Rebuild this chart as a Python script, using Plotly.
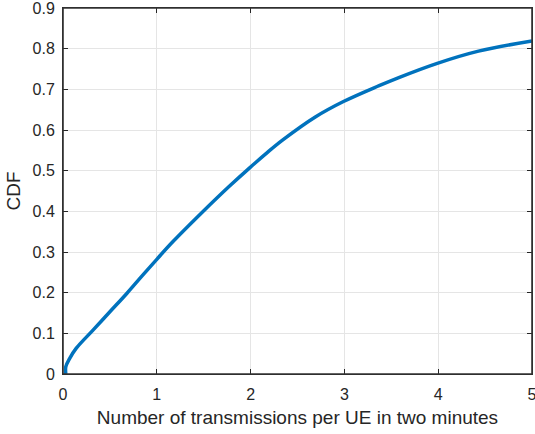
import plotly.graph_objects as go

x_vals = [0.03, 0.03, 0.07, 0.14, 0.32, 0.50, 0.68, 0.85, 1.00, 1.17, 1.49, 1.77,
          1.99, 2.18, 2.34, 2.69, 2.99, 3.37, 3.58, 3.99, 4.43, 5.00]
cdf_vals = [0.0, 0.018, 0.038, 0.063, 0.108, 0.153, 0.198, 0.243, 0.282, 0.325, 0.399, 0.461,
            0.507, 0.545, 0.575, 0.632, 0.670, 0.709, 0.729, 0.764, 0.794, 0.819]
x_ticks = [0, 1, 2, 3, 4, 5]
y_ticks = [0, 0.1, 0.2, 0.3, 0.4, 0.5, 0.6, 0.7, 0.8, 0.9]

fig = go.Figure()
fig.add_trace(go.Scatter(x=x_vals, y=cdf_vals, mode="lines",
                         line=dict(color="#0072BD", width=3.5, shape="spline", smoothing=1.0),
                         showlegend=False, cliponaxis=True))

fam = "Liberation Sans, Arial, sans-serif"
tick_font = dict(family=fam, size=16, color="#262626")
title_font = dict(family=fam, size=19, color="#262626")
axis_common = dict(showline=True, linecolor="#262626", linewidth=1, mirror="ticks",
                   ticks="inside", ticklen=5, tickcolor="#262626",
                   showgrid=True, gridcolor="#e5e5e5", gridwidth=1, zeroline=False,
                   tickfont=tick_font, automargin=False, ticklabeloverflow="allow")

fig.update_layout(
    width=535, height=434,
    margin=dict(l=63, r=3, t=8, b=60),
    paper_bgcolor="white", plot_bgcolor="white",
    font=tick_font,
    xaxis=dict(range=[0, 5], tickvals=x_ticks, ticktext=[str(v) for v in x_ticks],
               ticklabelstandoff=6,
               title=dict(text="Number of transmissions per UE in two minutes",
                          font=title_font, standoff=8),
               **axis_common),
    yaxis=dict(range=[0, 0.9], tickvals=y_ticks, ticktext=[("0" if v == 0 else f"{v:g}") for v in y_ticks],
               ticklabelstandoff=4,
               title=dict(text="CDF", font=title_font, standoff=6),
               **axis_common),
    shapes=[dict(type="rect", xref="paper", yref="paper", x0=0, y0=0, x1=1, y1=1,
                 line=dict(color="#333333", width=1.6), fillcolor="rgba(0,0,0,0)", layer="above")],
)

fig.write_html("out.html", config={"displayModeBar": False},
               post_script="document.body.style.margin='0';")
